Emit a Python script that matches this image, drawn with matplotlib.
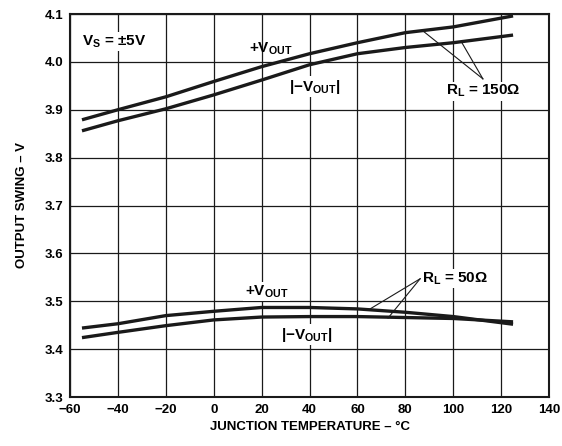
import matplotlib
matplotlib.use("Agg")
import matplotlib.pyplot as plt

plt.rcParams['font.family'] = ['Liberation Sans', 'DejaVu Sans']
plt.rcParams['font.weight'] = 'bold'
plt.rcParams['mathtext.fontset'] = 'custom'
plt.rcParams['mathtext.rm'] = 'Liberation Sans:bold'
plt.rcParams['mathtext.it'] = 'Liberation Sans:bold'
plt.rcParams['mathtext.bf'] = 'Liberation Sans:bold'
plt.rcParams['axes.unicode_minus'] = True

temp = [-55, -40, -20, 0, 20, 40, 60, 80, 100, 125]
pos_150 = [3.879, 3.900, 3.927, 3.959, 3.990, 4.017, 4.040, 4.061, 4.073, 4.096]
neg_150 = [3.856, 3.877, 3.902, 3.931, 3.962, 3.994, 4.017, 4.030, 4.040, 4.056]
pos_50 = [3.444, 3.453, 3.470, 3.479, 3.487, 3.487, 3.484, 3.477, 3.468, 3.452]
neg_50 = [3.424, 3.435, 3.449, 3.461, 3.467, 3.468, 3.468, 3.466, 3.464, 3.457]

xticks = [-60, -40, -20, 0, 20, 40, 60, 80, 100, 120, 140]
yticks = [3.3, 3.4, 3.5, 3.6, 3.7, 3.8, 3.9, 4.0, 4.1]

fig = plt.figure(figsize=(5.62, 4.46), dpi=100)
ax = fig.add_axes([70/562, 1 - 397/446, (549-70)/562, (397-14)/446])

ax.set_xlim(-60, 140)
ax.set_ylim(3.3, 4.1)
ax.set_xticks(xticks)
ax.set_yticks(yticks)
ax.set_xticklabels(['−60', '−40', '−20', '0', '20', '40', '60', '80', '100', '120', '140'])
ax.set_yticklabels([f'{v:.1f}' for v in yticks])
ax.tick_params(length=0, labelsize=9.5, pad=5)
ax.grid(True, color='#1a1a1a', linewidth=0.9)
for s in ax.spines.values():
    s.set_linewidth(1.5)
    s.set_color('#1a1a1a')

lw = 2.4
c = '#1a1a1a'
for ys in (pos_150, neg_150, pos_50, neg_50):
    ax.plot(temp, ys, color=c, linewidth=lw, solid_capstyle='butt', zorder=3)

ax.set_xlabel('JUNCTION TEMPERATURE – °C', fontsize=9.5, fontweight='bold', labelpad=4)
ax.set_ylabel('OUTPUT SWING – V', fontsize=9.5, fontweight='bold', labelpad=12)

box = dict(facecolor='white', edgecolor='none', pad=1.0)
fs = 11
ax.text(-55, 4.042, r'V$_\mathrm{S}$ = ±5V', fontsize=fs, ha='left', va='center', bbox=box, zorder=4)
ax.text(24, 4.027, r'+V$_\mathrm{OUT}$', fontsize=fs, ha='center', va='center', zorder=4)
ax.text(42, 3.948, r'|−V$_\mathrm{OUT}$|', fontsize=fs, ha='center', va='center', bbox=box, zorder=4)
ax.text(97, 3.939, r'R$_\mathrm{L}$ = 150Ω', fontsize=fs, ha='left', va='center', bbox=box, zorder=4)
ax.plot([87.4, 112.4], [4.0645, 3.9645], color=c, linewidth=0.8, zorder=4)
ax.plot([103.7, 112.4], [4.0395, 3.9645], color=c, linewidth=0.8, zorder=4)

ax.text(22, 3.520, r'+V$_\mathrm{OUT}$', fontsize=fs, ha='center', va='center', bbox=box, zorder=4)
ax.text(39, 3.430, r'|−V$_\mathrm{OUT}$|', fontsize=fs, ha='center', va='center', bbox=box, zorder=4)
ax.text(87, 3.547, r'R$_\mathrm{L}$ = 50Ω', fontsize=fs, ha='left', va='center', bbox=box, zorder=4)
ax.plot([86.2, 65.3], [3.547, 3.484], color=c, linewidth=0.8, zorder=4)
ax.plot([86.2, 72.8], [3.547, 3.465], color=c, linewidth=0.8, zorder=4)

fig.savefig('out.png', dpi=100)
